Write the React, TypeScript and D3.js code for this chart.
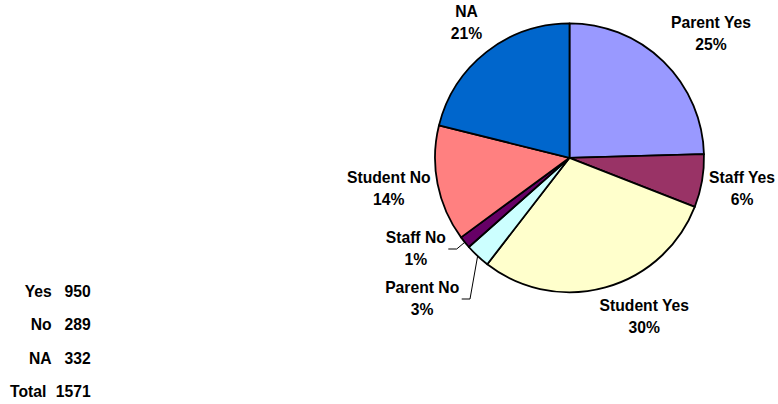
import React from "react";
import * as d3 from "d3";

const categories = ["Parent Yes", "Staff Yes", "Student Yes", "Parent No", "Staff No", "Student No", "NA"];
const values = [386, 100, 464, 47, 23, 219, 332];
const colors = ["#9999FF", "#993366", "#FFFFCC", "#CCFFFF", "#660066", "#FF8080", "#0066CC"];

const summaryLabels = ["Yes", "No", "NA", "Total"];
const summaryValues = [950, 289, 332, 1571];

// label layout (text anchor centers and baselines)
const labelCx = [711, 742, 644.3, 422.2, 415.8, 388.8, 466.5];
const labelBase = [28.3, 182.7, 310.7, 292.7, 242.7, 183.3, 17.3];
// leader elbows: [elbowX, elbowY, endX] or null
const leaders: (number[] | null)[] = [null, null, null, [470, 299, 461.7], [456.7, 249, 448.3], null, null];

const summaryLabelEnd = [51.7, 51.7, 51.7, 46.3];
const summaryBase = [297.3, 330.2, 363.5, 397.3];

const W = 778, H = 404;
const cx = 569.5, cy = 157.8, R = 134.5;
const FONT = "'Liberation Sans', Arial, Helvetica, sans-serif";
const FS = 15.7;
const LINE = 21.9;

export default function App() {
  const total = d3.sum(values);
  const pie = d3.pie<number>().sort(null).value((d) => d);
  const arcs = pie(values);
  const arc = d3.arc<d3.PieArcDatum<number>>().innerRadius(0).outerRadius(R);
  const pct = (v: number) => `${Math.round((v / total) * 100)}%`;

  return (
    <svg
      width={W}
      height={H}
      style={{ position: "absolute", left: 0, top: 0, background: "#fff" }}
      fontFamily={FONT}
    >
      <g transform={`translate(${cx},${cy})`}>
        {arcs.map((a, i) => (
          <path key={i} d={arc(a) || ""} fill={colors[i]} stroke="#000" strokeWidth={1.8} strokeLinejoin="round" />
        ))}
      </g>
      {arcs.map((a, i) => {
        const l = leaders[i];
        if (!l) return null;
        const mid = (a.startAngle + a.endAngle) / 2;
        const px = cx + Math.sin(mid) * R;
        const py = cy - Math.cos(mid) * R;
        return (
          <polyline
            key={"l" + i}
            points={`${px},${py} ${l[0]},${l[1]} ${l[2]},${l[1]}`}
            fill="none"
            stroke="#000"
            strokeWidth={1}
          />
        );
      })}
      {categories.map((c, i) => (
        <text key={"t" + i} x={labelCx[i]} y={labelBase[i]} textAnchor="middle" fontSize={FS} fontWeight="bold" fill="#000">
          <tspan x={labelCx[i]} y={labelBase[i]}>{c}</tspan>
          <tspan x={labelCx[i]} y={labelBase[i] + LINE}>{pct(values[i])}</tspan>
        </text>
      ))}
      {summaryLabels.map((s, i) => (
        <g key={"s" + i} fontSize={FS} fontWeight="bold" fill="#000">
          <text x={summaryLabelEnd[i]} y={summaryBase[i]} textAnchor="end">{s}</text>
          <text x={90.7} y={summaryBase[i]} textAnchor="end">{summaryValues[i]}</text>
        </g>
      ))}
    </svg>
  );
}
